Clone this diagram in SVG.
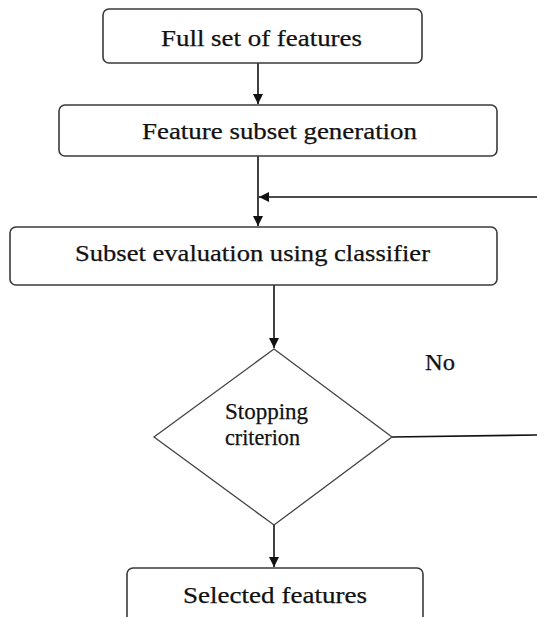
<svg xmlns="http://www.w3.org/2000/svg" width="537" height="617" viewBox="0 0 537 617">
<style>
.box{fill:#fff;stroke:#3a3a3a;stroke-width:1.6}
.dia{fill:#fff;stroke:#444;stroke-width:1.3}
.lbl{font-family:'Liberation Serif','Times New Roman','DejaVu Serif',serif;font-size:23px;fill:#111;stroke:#111;stroke-width:0.25}
.c{fill:none;stroke:#111;stroke-width:1.6}
</style>
<defs>
<marker id="ah" viewBox="0 0 10 10" refX="10" refY="5" markerWidth="12" markerHeight="10" markerUnits="userSpaceOnUse" orient="auto">
<path d="M0,0 L10,5 L0,10 Z" fill="#111"/>
</marker>
</defs>
<rect width="537" height="617" fill="#fff"/>
<g id="connectors">
<line class="c" x1="258" y1="63" x2="258" y2="104" marker-end="url(#ah)"/>
<line class="c" x1="258" y1="156" x2="258" y2="226" marker-end="url(#ah)"/>
<line class="c" x1="537" y1="197" x2="259" y2="197" marker-end="url(#ah)"/>
<line class="c" x1="274" y1="285" x2="274" y2="348" marker-end="url(#ah)"/>
<line class="c" x1="274" y1="525" x2="274" y2="567" marker-end="url(#ah)"/>
<line class="c" x1="392" y1="437" x2="537" y2="435"/>
<text class="lbl" x="425" y="370" textLength="30" lengthAdjust="spacingAndGlyphs">No</text>
</g>
<g id="full-set">
<rect class="box" x="103" y="9" width="319" height="54" rx="6"/>
<text class="lbl" x="161" y="46" textLength="201" lengthAdjust="spacingAndGlyphs">Full set of features</text>
</g>
<g id="subset-generation">
<rect class="box" x="59" y="105" width="438" height="51" rx="6"/>
<text class="lbl" x="142" y="139" textLength="275" lengthAdjust="spacingAndGlyphs">Feature subset generation</text>
</g>
<g id="subset-evaluation">
<rect class="box" x="10" y="227" width="487" height="58" rx="6"/>
<text class="lbl" x="75" y="261" textLength="355" lengthAdjust="spacingAndGlyphs">Subset evaluation using classifier</text>
</g>
<g id="stopping-criterion">
<polygon class="dia" points="274,349 392,437 274,525 154,437"/>
<text class="lbl" x="225" y="419" textLength="83" lengthAdjust="spacingAndGlyphs">Stopping</text>
<text class="lbl" x="225" y="445" textLength="75" lengthAdjust="spacingAndGlyphs">criterion</text>
</g>
<g id="selected-features">
<rect class="box" x="127" y="568" width="296" height="60" rx="6"/>
<text class="lbl" x="183" y="603" textLength="184" lengthAdjust="spacingAndGlyphs">Selected features</text>
</g>
</svg>
